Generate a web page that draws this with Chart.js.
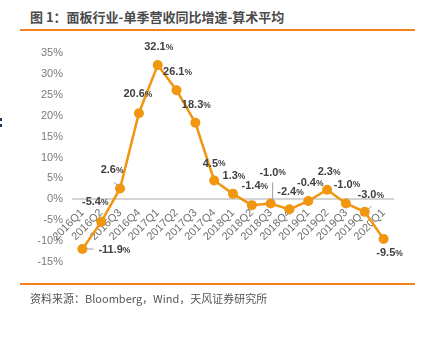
<!DOCTYPE html>
<html lang="zh">
  <head>
    <meta charset="UTF-8" />
    <title>面板行业-单季营收同比增速</title>
    <script src="https://cdn.jsdelivr.net/npm/chart.js"></script>
    <style>
      body { margin: 0; width: 427px; height: 353px; background: #fff; position: relative; overflow: hidden;
             font-family: "Liberation Sans", "Noto Sans CJK SC", sans-serif; }
      #title { position: absolute; left: 30px; top: 8px; font-size: 13px; font-weight: bold; color: #4a4a4a;
               font-family: "Noto Sans CJK SC", sans-serif; line-height: 17px; }
      .rule { position: absolute; left: 20px; width: 395px; height: 1.5px; background: #f5821f; }
      #source { position: absolute; left: 30px; top: 290px; font-size: 11px; color: #555;
                font-family: "Noto Sans CJK SC", sans-serif; line-height: 16px; }
      .dot { position: absolute; left: 0; width: 2px; height: 3px; background: #1f3a5c; }
      #c { position: absolute; left: 0; top: 0; }
    </style>
  </head>
  <body>
    <div id="title">图 1：面板行业-单季营收同比增速-算术平均</div>
    <div class="rule" style="top: 29px"></div>
    <canvas id="c" width="427" height="353"></canvas>
    <div class="dot" style="top: 118px"></div>
    <div class="dot" style="top: 124px"></div>
    <div class="rule" style="top: 283px"></div>
    <div id="source">资料来源：Bloomberg，Wind，天风证券研究所</div>

    <script>
      // 季度
      const quarters = [
        "2016Q1", "2016Q2", "2016Q3", "2016Q4",
        "2017Q1", "2017Q2", "2017Q3", "2017Q4",
        "2018Q1", "2018Q2", "2018Q3", "2018Q4",
        "2019Q1", "2019Q2", "2019Q3", "2019Q4",
        "2020Q1"
      ];
      // 单季营收同比增速（%）
      const growth = [
        -11.9, -5.4, 2.6, 20.6,
        32.1, 26.1, 18.3, 4.5,
        1.3, -1.4, -1.0, -2.4,
        -0.4, 2.3, -1.0, -3.0,
        -9.5
      ];
      const yTicks = [-15, -10, -5, 0, 5, 10, 15, 20, 25, 30, 35];

      // 数据标签相对点的偏移 [dx, dy]，以及引线 [x1, y1, x2, y2]（相对点）
      const labelOffsets = [
        [32, 1], [-6, -20], [-8, -18], [-1, -19],
        [1, -18], [1, -18], [1, -18], [0, -17],
        [1, -18], [3, -19], [2, -31], [1, -17],
        [2, -18], [2, -18], [1, -19], [6, -17],
        [6, 14]
      ];
      const leaders = {
        0: [4, 0, 11, 0],
        2: [-6, -6, -1, -2],
        10: [2, -21, 2, -3],
        15: [7, -6, 3, -2]
      };

      const labelPlugin = {
        id: "pointLabels",
        afterDatasetsDraw(chart) {
          const ctx = chart.ctx;
          const meta = chart.getDatasetMeta(0);
          ctx.save();
          meta.data.forEach((pt, i) => {
            const lead = leaders[i];
            if (lead) {
              ctx.strokeStyle = "#9a9a9a";
              ctx.lineWidth = 1;
              ctx.beginPath();
              ctx.moveTo(pt.x + lead[0], pt.y + lead[1]);
              ctx.lineTo(pt.x + lead[2], pt.y + lead[3]);
              ctx.stroke();
            }
            const num = growth[i].toFixed(1);
            const cx = pt.x + labelOffsets[i][0];
            const cy = pt.y + labelOffsets[i][1];
            ctx.font = "bold 11px 'Liberation Sans', Arial";
            const w1 = ctx.measureText(num).width;
            ctx.font = "bold 8.5px 'Liberation Sans', Arial";
            const w2 = ctx.measureText("%").width;
            const x0 = cx - (w1 + w2) / 2;
            ctx.fillStyle = "#404040";
            ctx.textBaseline = "middle";
            ctx.textAlign = "left";
            ctx.font = "bold 11px 'Liberation Sans', Arial";
            ctx.fillText(num, x0, cy);
            ctx.font = "bold 8.5px 'Liberation Sans', Arial";
            ctx.fillText("%", x0 + w1, cy + 0.5);
          });
          ctx.restore();
        }
      };

      new Chart(document.getElementById("c"), {
        type: "line",
        data: {
          labels: quarters,
          datasets: [
            {
              data: growth,
              borderColor: "#f0960f",
              backgroundColor: "#f0960f",
              borderWidth: 2.5,
              pointRadius: 5,
              pointBorderWidth: 0,
              tension: 0,
            },
          ],
        },
        options: {
          responsive: false,
          animation: false,
          layout: { padding: { top: 53, bottom: 91, left: 33, right: 34 } },
          plugins: { legend: { display: false }, tooltip: { enabled: false } },
          scales: {
            x: {
              position: { y: 0 },
              offset: true,
              grid: { display: false, drawTicks: false },
              border: { display: true, color: "#d4d4d4", width: 2 },
              ticks: {
                autoSkip: false,
                minRotation: 45,
                maxRotation: 45,
                padding: 7,
                color: "#6f6f6f",
                font: { family: "'Liberation Sans', Arial", size: 11 },
              },
            },
            y: {
              min: -15,
              max: 35,
              afterFit(scale) { scale.width = 40; },
              afterBuildTicks(scale) { scale.ticks = yTicks.map((v) => ({ value: v })); },
              grid: { display: false, drawTicks: false },
              border: { display: false },
              ticks: {
                padding: 10,
                color: "#7a7a7a",
                font: { family: "'Liberation Sans', Arial", size: 11 },
                callback: (v) => v + "%",
              },
            },
          },
        },
        plugins: [labelPlugin],
      });
    </script>
  </body>
</html>
